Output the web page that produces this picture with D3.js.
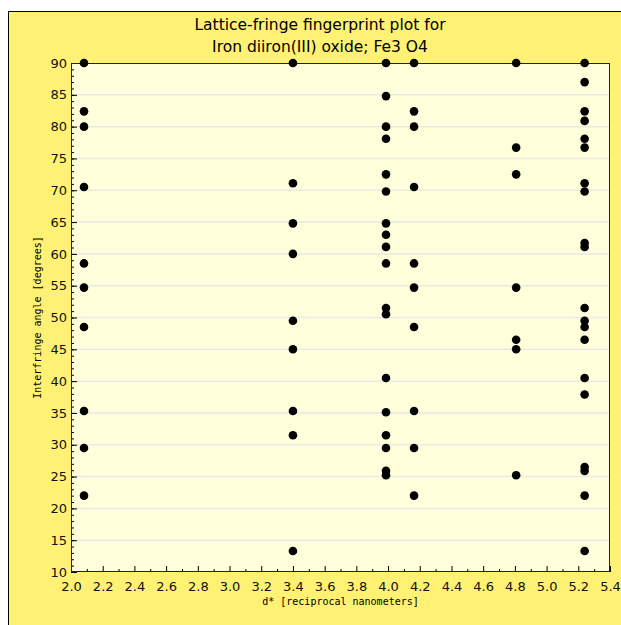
<!DOCTYPE html>
<html>
<head>
<meta charset="utf-8">
<script src="https://cdn.jsdelivr.net/npm/d3@7"></script>
<style>
  body { margin: 0; background: #fff; }
  svg text { font-family: "DejaVu Sans", sans-serif; }
</style>
</head>
<body>
<div id="chart"></div>
<script>
// reflection positions, d* in 1/nm (111, 220, 311, 222, 400, 331)
const reflections = ["111", "220", "311", "222", "400", "331"];
const dstar = [2.082, 3.400, 3.987, 4.164, 4.808, 5.240];

// interfringe angles seen in each column (degrees)
const angles111 = [90, 82.4, 80.0, 70.5, 58.5, 54.7, 48.5, 35.3, 29.5, 22.0];
const angles220 = [90, 71.1, 64.8, 60.0, 49.5, 45.0, 35.3, 31.5, 13.3];
const angles311 = [90, 84.8, 80.0, 78.1, 72.5, 69.8, 64.8, 63.0, 61.1, 58.5, 51.5, 50.5, 40.5, 35.1, 31.5, 29.5, 25.9, 25.2];
const angles222 = [90, 82.4, 80.0, 70.5, 58.5, 54.7, 48.5, 35.3, 29.5, 22.0];
const angles400 = [90, 76.7, 72.5, 54.7, 46.5, 45.0, 25.2];
const angles331 = [90, 87.0, 82.4, 80.9, 78.1, 76.7, 71.1, 69.8, 61.7, 61.1, 51.5, 49.5, 48.5, 46.5, 40.5, 37.9, 26.5, 25.9, 22.0, 13.3];

const xTicks = d3.range(2.0, 5.41, 0.2);
const yTicks = d3.range(10, 91, 5);

const columns = [angles111, angles220, angles311, angles222, angles400, angles331];
const points = [];
columns.forEach((arr, i) => arr.forEach(a => points.push({ d: dstar[i], a: a, hkl: reflections[i] })));

const W = 621, H = 625;
const margin = { top: 63, right: 11, bottom: 53, left: 71 };
const width = W - margin.left - margin.right,
      height = H - margin.top - margin.bottom;

const svg = d3.select("#chart").append("svg")
  .attr("width", W)
  .attr("height", H);

// outer panel
svg.append("rect")
  .attr("x", 8.5).attr("y", 11.5)
  .attr("width", W).attr("height", H)
  .attr("fill", "#fff173")
  .attr("stroke", "#000");

// title
svg.append("text")
  .attr("x", 320).attr("y", 30)
  .attr("text-anchor", "middle")
  .attr("font-size", 15.5)
  .text("Lattice-fringe fingerprint plot for");
svg.append("text")
  .attr("x", 320).attr("y", 52)
  .attr("text-anchor", "middle")
  .attr("font-size", 15.5)
  .text("Iron diiron(III) oxide; Fe3 O4");

const g = svg.append("g")
  .attr("transform", "translate(" + margin.left + "," + margin.top + ")");

const x = d3.scaleLinear().domain([2.0, 5.4]).range([0, width]);
const y = d3.scaleLinear().domain([10, 90]).range([height, 0]);

g.append("rect")
  .attr("width", width).attr("height", height)
  .attr("fill", "#ffffdc");

// horizontal grid
g.append("g")
  .selectAll("line")
  .data(yTicks.slice(1, -1))
  .join("line")
  .attr("x1", 0).attr("x2", width)
  .attr("y1", d => y(d)).attr("y2", d => y(d))
  .attr("stroke", "#e9e9e2")
  .attr("stroke-width", 1.5);

// minor ticks
g.append("g")
  .attr("transform", "translate(0," + height + ")")
  .call(d3.axisTop(x).tickValues(d3.range(2.1, 5.4, 0.2)).tickSize(3).tickFormat(""))
  .call(a => a.select(".domain").remove());
g.append("g")
  .call(d3.axisRight(y).tickValues(d3.range(10, 91, 1)).tickSize(3).tickFormat(""))
  .call(a => a.select(".domain").remove());

// major axes
const xAxis = g.append("g")
  .attr("transform", "translate(0," + height + ")")
  .call(d3.axisBottom(x).tickValues(xTicks).tickSize(0).tickPadding(10).tickFormat(d3.format(".1f")));
xAxis.selectAll("text").attr("font-size", 13).attr("fill", "#111").attr("font-family", "DejaVu Sans, sans-serif");
xAxis.select(".domain").remove();
g.append("g")
  .attr("transform", "translate(0," + height + ")")
  .call(d3.axisTop(x).tickValues(xTicks).tickSize(6).tickFormat(""))
  .call(a => a.select(".domain").remove());

const yAxis = g.append("g")
  .call(d3.axisLeft(y).tickValues(yTicks).tickSize(0).tickPadding(4).tickFormat(d3.format("d")));
yAxis.selectAll("text").attr("font-size", 13).attr("fill", "#111").attr("font-family", "DejaVu Sans, sans-serif");
yAxis.select(".domain").remove();
g.append("g")
  .call(d3.axisRight(y).tickValues(yTicks).tickSize(6).tickFormat(""))
  .call(a => a.select(".domain").remove());

// frame
g.append("rect")
  .attr("x", 0.5).attr("y", 0.5)
  .attr("width", width - 1).attr("height", height - 1)
  .attr("fill", "none")
  .attr("stroke", "#222");

// points
g.append("g")
  .selectAll("circle")
  .data(points)
  .join("circle")
  .attr("cx", d => x(d.d))
  .attr("cy", d => y(d.a))
  .attr("r", 4.3)
  .attr("fill", "#000");

// axis labels
svg.append("text")
  .attr("x", margin.left + width / 2).attr("y", 605)
  .attr("text-anchor", "middle")
  .attr("font-size", 10)
  .style("font-family", "'DejaVu Sans Mono', monospace")
  .text("d* [reciprocal nanometers]");
svg.append("text")
  .attr("transform", "translate(41," + (margin.top + height / 2) + ") rotate(-90)")
  .attr("text-anchor", "middle")
  .attr("font-size", 10)
  .style("font-family", "'DejaVu Sans Mono', monospace")
  .text("Interfringe angle [degrees]");
</script>
</body>
</html>
